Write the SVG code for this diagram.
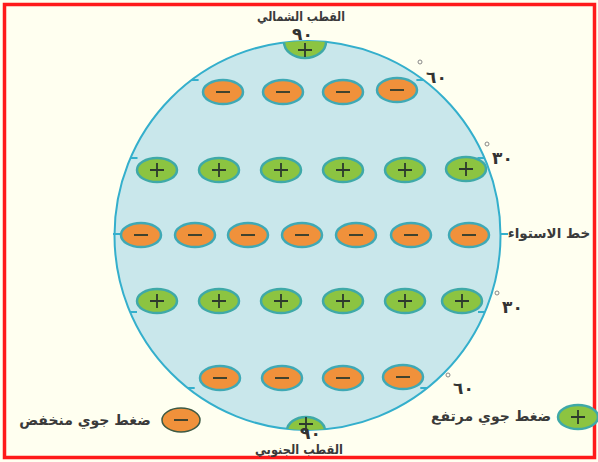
<svg xmlns="http://www.w3.org/2000/svg" xmlns:xlink="http://www.w3.org/1999/xlink" width="598" height="462" viewBox="0 0 598 462">
<style>
.bg{fill:#fffff0}
.frame{fill:none;stroke:#ff1a1a;stroke-width:3.5}
.globe{fill:#c9e7eb;stroke:#34afcc;stroke-width:2}
.tick{stroke:#34afcc;stroke-width:2;fill:none}
.lo{fill:#f0913b;stroke:#3fa9b5;stroke-width:2.5}
.hi{fill:#8cc441;stroke:#3fa9a8;stroke-width:2.5}
.sign{stroke:#2d3a2d;stroke-width:1.8;fill:none}
.lbl{font-family:"DejaVu Sans",sans-serif;font-weight:bold;fill:#3a3a3a;text-anchor:middle}
.num{font-family:"DejaVu Sans",sans-serif;font-weight:bold;fill:#333;font-size:17px}
.deg{fill:none;stroke:#888;stroke-width:1}
</style>
<defs>
<g id="hiOval"><ellipse class="hi" cx="0" cy="0" rx="20" ry="12"/><path class="sign" d="M-7,0H7M0,-7V7"/></g>
<g id="loOval"><ellipse class="lo" cx="0" cy="0" rx="20" ry="12"/><path class="sign" d="M-7,0H7"/></g>
<clipPath id="globeClip"><ellipse cx="307.5" cy="235.5" rx="193" ry="194.5"/></clipPath>
</defs>
<rect class="bg" x="0" y="0" width="598" height="462"/>
<rect class="frame" x="4.5" y="4.5" width="590" height="453"/>
<g id="globe">
<ellipse class="globe" cx="307.5" cy="235.5" rx="193" ry="194.5"/>
</g>
<g id="connectors">
<path class="tick" d="M191.6,80h7M423.4,80h-7M130.5,158h7M484.5,158h-7M113,234h9M500,234h8M130,312h7M485,312h-7M187.7,388h7M427.3,388h-7"/>
</g>
<g id="north-pole">
<g clip-path="url(#globeClip)"><ellipse class="hi" cx="305" cy="42" rx="21" ry="16"/></g>
<path class="sign" d="M298,50h14M305,43v14"/>
</g>
<g id="south-pole">
<g clip-path="url(#globeClip)"><ellipse class="hi" cx="306" cy="431" rx="19" ry="14"/></g>
<path class="sign" d="M299,424h14M306,417v16"/>
</g>
<g id="row60n">
<use xlink:href="#loOval" x="223" y="92"/><use xlink:href="#loOval" x="283" y="92"/><use xlink:href="#loOval" x="343" y="92"/><use xlink:href="#loOval" x="397" y="90"/>
</g>
<g id="row30n">
<use xlink:href="#hiOval" x="157" y="170"/><use xlink:href="#hiOval" x="219" y="170"/><use xlink:href="#hiOval" x="281" y="170"/><use xlink:href="#hiOval" x="343" y="170"/><use xlink:href="#hiOval" x="405" y="170"/><use xlink:href="#hiOval" x="466" y="169"/>
</g>
<g id="row0">
<use xlink:href="#loOval" x="141" y="235"/><use xlink:href="#loOval" x="195" y="235"/><use xlink:href="#loOval" x="248" y="235"/><use xlink:href="#loOval" x="302" y="235"/><use xlink:href="#loOval" x="356" y="235"/><use xlink:href="#loOval" x="411" y="235"/><use xlink:href="#loOval" x="469" y="235"/>
</g>
<g id="row30s">
<use xlink:href="#hiOval" x="157" y="301"/><use xlink:href="#hiOval" x="219" y="301"/><use xlink:href="#hiOval" x="281" y="301"/><use xlink:href="#hiOval" x="343" y="301"/><use xlink:href="#hiOval" x="405" y="301"/><use xlink:href="#hiOval" x="462" y="301"/>
</g>
<g id="row60s">
<use xlink:href="#loOval" x="220" y="378"/><use xlink:href="#loOval" x="282" y="378"/><use xlink:href="#loOval" x="343" y="378"/><use xlink:href="#loOval" x="403" y="377"/>
</g>
<g id="labels">
<text class="lbl" x="301" y="21" font-size="13" textLength="88" lengthAdjust="spacingAndGlyphs">القطب الشمالي</text>
<text class="num" x="292" y="40" letter-spacing="3">٩٠</text>
<text class="lbl" x="299" y="454" font-size="13" textLength="88" lengthAdjust="spacingAndGlyphs">القطب الجنوبي</text>
<text class="num" x="300" y="439" font-size="15">٩٠</text>
<text class="lbl" x="549" y="238" font-size="13.5">خط الاستواء</text>
<circle class="deg" cx="420" cy="62" r="2"/><text class="num" x="426" y="83" letter-spacing="6">٦٠</text>
<circle class="deg" cx="487" cy="144" r="2"/><text class="num" x="492" y="164" letter-spacing="6">٣٠</text>
<circle class="deg" cx="497" cy="293" r="2"/><text class="num" x="502" y="313" letter-spacing="6">٣٠</text>
<circle class="deg" cx="448" cy="375" r="2"/><text class="num" x="453" y="394" letter-spacing="8">٦٠</text>
</g>
<g id="legend-low">
<ellipse class="lo" cx="181" cy="420" rx="19" ry="12" style="stroke:#3d5a45;stroke-width:1.5"/>
<path class="sign" d="M174,420h14"/>
<text class="lbl" x="85" y="425" font-size="14">ضغط جوي منخفض</text>
</g>
<g id="legend-high">
<use xlink:href="#hiOval" x="578" y="417"/>
<text class="lbl" x="491" y="421" font-size="14">ضغط جوي مرتفع</text>
</g>
</svg>
